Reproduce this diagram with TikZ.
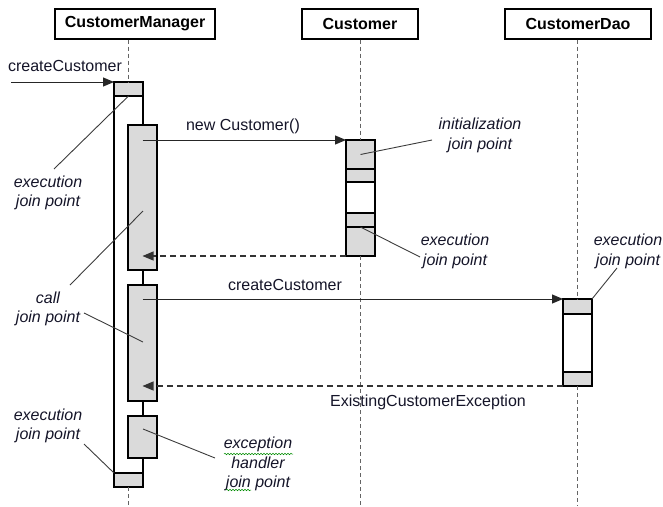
\documentclass[tikz,border=0pt]{standalone}
\usepackage{fontspec}
\setmainfont{Liberation Sans}
\usetikzlibrary{arrows.meta,decorations.pathmorphing}
\definecolor{actfill}{RGB}{218,218,218}
\definecolor{lifegray}{RGB}{100,100,100}
\definecolor{leadgray}{RGB}{60,60,60}
\definecolor{txt}{RGB}{20,20,40}
\begin{document}
\begin{tikzpicture}[x=1pt,y=-1pt,
  every node/.style={font=\fontsize{16}{19.5}\selectfont, text=txt},
  head/.style={draw, line width=1.2pt, minimum width=#1, minimum height=30pt, inner sep=0pt,
    font=\fontsize{16}{19}\selectfont\bfseries, text=black},
  actg/.style={draw, line width=1.1pt, fill=actfill, minimum width=29pt, minimum height=#1, inner sep=0pt, outer sep=0pt},
  actw/.style={draw, line width=1.1pt, fill=white, minimum width=29pt, minimum height=#1, inner sep=0pt, outer sep=0pt},
  life/.style={draw=lifegray, line width=1.4pt, dash pattern=on 4pt off 3pt},
  msg/.style={draw=black!85, line width=1pt, -{Triangle[length=11pt,width=9pt]}},
  ret/.style={draw=black!80, line width=1.1pt, dash pattern=on 6pt off 4pt, -{Triangle[length=11pt,width=9pt]}},
  lead/.style={draw=leadgray, line width=0.9pt},
  note/.style={align=center, font=\fontsize{16}{19.5}\selectfont\itshape, inner sep=0pt},
  squig/.style={draw=green!55!black, line width=0.5pt, decorate, decoration={snake, amplitude=0.8pt, segment length=3pt}}
]
\useasboundingbox (0,0) rectangle (663,506);
\coordinate (bot) at (0,506);

% headers
\node[head=160pt] (cm) at (135,24) {CustomerManager};
\node[head=116pt] (cu) at (360,24) {Customer};
\node[head=146pt] (dao) at (578,24) {CustomerDao};

% CustomerManager activations
\node[actw=405pt] (cmout) at (128.5,284.5) {};
\node[actg=14pt] (cmtop) at (128.5,89) {};
\node[actg=14pt] (cmbot) at (128.5,480) {};
\node[actg=145pt] (i1) at (142.5,197.5) {};
\node[actg=116pt] (i2) at (142.5,343) {};
\node[actg=42pt] (i3) at (142.5,437) {};

% Customer activations
\node[actg=29pt] (c1) at (360.5,154.5) {};
\node[actg=13pt] (c2) at (360.5,175.5) {};
\node[actw=31pt] (c3) at (360.5,197.5) {};
\node[actg=14pt] (c4) at (360.5,220) {};
\node[actg=29pt] (c5) at (360.5,241.5) {};

% CustomerDao activations
\node[actg=15pt] (d1) at (577.5,306.5) {};
\node[actw=58pt] (d2) at (577.5,343) {};
\node[actg=14pt] (d3) at (577.5,379) {};

% lifelines
\draw[life] (cmtop.north |- cm.south) -- (cmtop.north);
\draw[life] (cmbot.south) -- (cmbot.south |- bot);
\draw[life] (c1.north |- cu.south) -- (c1.north);
\draw[life] (c5.south) -- (c5.south |- bot);
\draw[life] (d1.north |- dao.south) -- (d1.north);
\draw[life] (d3.south) -- (d3.south |- bot);

% messages
\coordinate (src) at (11,82);
\draw[msg] (src) -- (cmtop.north west);
\node (m0) at (65,66) {createCustomer};

\draw[msg] (i1.center |- c1.north west) -- (c1.north west);
\node (m1) at (243,126) {new Customer()};

\draw[ret] (c5.south west) -- (i1.center |- c5.south west);

\draw[msg] (i2.center |- d1.north west) -- (d1.north west);
\node (m2) at (285,285) {createCustomer};

\draw[ret] (d3.south west) -- (i2.center |- d3.south west);
\node (m3) at (428,402) {ExistingCustomerException};

% annotations
\node[note] (n1) at (48,193) {execution\\join point};
\coordinate (n1e) at (54,169);
\draw[lead] (cmtop.south) -- (n1e);

\node[note] (n2) at (48,309) {call\\join point};
\coordinate (n2a) at (143,211);
\coordinate (n2b) at (70,285);
\coordinate (n2c) at (84,313);
\coordinate (n2d) at (143,342);
\draw[lead] (n2a) -- (n2b);
\draw[lead] (n2c) -- (n2d);

\node[note] (n3) at (48,426) {execution\\join point};
\coordinate (n3e) at (84,444);
\draw[lead] (n3e) -- (cmbot.north west);

\node[note] (n4) at (258,464) {exception\\handler\\join point};
\coordinate (n4a) at (143,429);
\coordinate (n4b) at (215,458);
\draw[lead] (n4a) -- (n4b);
\draw[squig] (224,454) -- (293,454);
\draw[squig] (226,490) -- (251,490);

\node[note] (n5) at (480,135.5) {initialization\\join point};
\coordinate (n5e) at (432,140);
\draw[lead] (c1.center) -- (n5e);

\node[note] (n6) at (455,251.5) {execution\\join point};
\coordinate (n6e) at (420,257);
\draw[lead] (c4.south) -- (n6e);

\node[note] (n7) at (628,251.5) {execution\\join point};
\coordinate (n7e) at (617,268);
\draw[lead] (d1.north east) -- (n7e);
\end{tikzpicture}
\end{document}
